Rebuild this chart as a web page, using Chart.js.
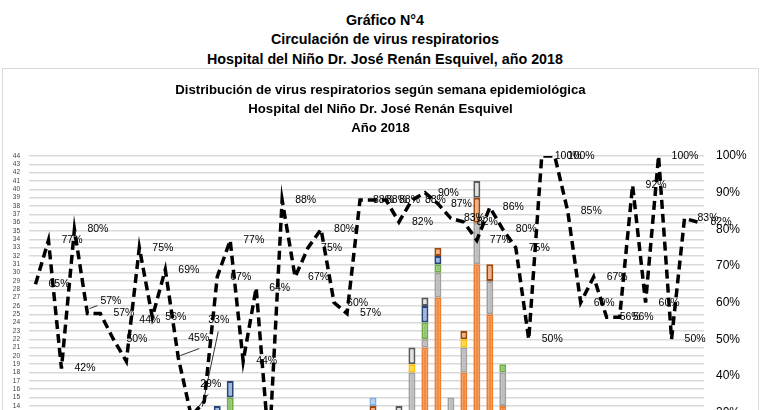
<!DOCTYPE html>
<html><head><meta charset="utf-8">
<script src="https://cdn.jsdelivr.net/npm/chart.js@4.4.0/dist/chart.umd.min.js"></script>
<style>
html,body{margin:0;padding:0;background:#fff;}
body{width:770px;height:410px;overflow:hidden;position:relative;font-family:'Liberation Sans',Arial,sans-serif;}
.t{position:absolute;left:0;width:770px;text-align:center;font-weight:bold;font-size:14.3px;line-height:20px;color:#000;}
#box{position:absolute;left:2px;top:68px;width:757px;height:560px;border:1px solid #d9d9d9;box-sizing:border-box;}
#wrap{position:absolute;left:3px;top:69px;width:755px;height:490px;}
</style></head>
<body>
<div class="t" style="top:10px">Gráfico N°4</div>
<div class="t" style="top:29px">Circulación de virus respiratorios</div>
<div class="t" style="top:49px">Hospital del Niño Dr. José Renán Esquivel, año 2018</div>
<div id="box"></div>
<div id="wrap"><canvas id="c" width="755" height="490"></canvas></div>
<script>
// ---- data ----
const weeks = Array.from({length: 52}, (_, i) => String(i + 1));
const positivity = [65,77,42,80,57,57,50,44,75,56,69,45,29,33,67,77,44,64,20,88,67,75,80,60,57,88,88,88,82,88,90,87,83,82,77,86,80,75,50,100,100,85,60,67,56,56,92,60,100,50,83,82];
const vsr          = [3,4,2,5,3,4,2,3,5,4,6,3,2,2,6,5,3,4,2,5,3,4,5,6,7,8,8,6,8,10,21,27,9,18,31,25,14,8,6,3,5,4,3,2,3,2,4,3,2,1,2,3];
const adenovirus   = [2,3,1,2,2,1,2,1,3,2,2,1,1,2,4,4,2,2,1,3,2,2,3,2,2,3,5,3,5,8,1,3,6,3,5,4,4,3,2,2,3,2,2,1,2,1,2,2,1,1,2,2];
const parainfluenza= [0,0,0,0,0,1,0,0,0,0,0,0,0,0,0,0,0,0,0,0,1,0,0,0,0,0,0,0,0,1,0,0,0,1,0,0,0,0,0,0,1,0,0,0,0,0,0,0,0,0,0,0];
const influenzaB   = [0,0,1,0,0,0,0,0,0,1,0,0,1,2,3,6,1,0,0,0,0,0,0,0,0,0,0,0,0,0,2,1,0,0,0,0,1,0,0,0,0,0,0,0,0,0,0,0,0,0,0,0];
const fluAH1N1     = [0,0,0,0,0,0,0,0,0,0,0,1,1,1,1,2,1,0,0,0,0,0,0,0,0,0,0,0,0,0,2,1,0,0,0,0,0,0,0,0,0,0,0,0,0,0,0,0,0,0,0,0];
const fluAH3N2     = [0,0,0,0,0,0,0,0,0,0,0,0,0,0,0,0,0,0,0,0,0,0,0,0,0,1,1,1,0,0,0,1,0,1,3,2,0,0,0,0,0,0,0,0,0,0,0,0,0,0,0,0];
const metapneumo   = [0,0,0,0,0,0,0,0,0,0,0,0,0,0,0,0,0,0,0,0,0,0,1,0,1,0,0,0,1,2,1,0,0,0,2,0,0,0,0,0,0,0,0,0,0,0,0,0,0,0,0,0];
const fluANoSub    = [0,0,0,0,0,0,0,0,0,0,0,0,0,0,0,0,0,0,0,0,0,0,0,0,0,0,1,0,0,0,0,0,0,0,0,0,0,0,0,0,0,0,0,0,0,0,0,0,0,0,0,0];
const leftTicksMax = 44;

// label nudges (style only: moved labels with leader lines)
const labelNudge = {
  4:  {dx: 0,  dy: -12, lead: [-3, 4, 2, -5]},
  7:  {dx: 0,  dy: -41},
  11: {dx: -3, dy: -19, lead: [11, 10, 2, -2]},
  12: {dx: -4, dy: -32, lead: [8, 10, 0, 0]},
  13: {dx: -9, dy: -81, lead: [10, 11, -2, 5]}
};

const pctLabels = {
  id: 'pctLabels',
  afterDatasetsDraw(chart) {
    const di = chart.data.datasets.findIndex(d => d.type === 'line');
    const meta = chart.getDatasetMeta(di);
    const ctx = chart.ctx;
    ctx.save();
    ctx.font = '10.5px "Liberation Sans", Arial, sans-serif';
    ctx.fillStyle = '#000';
    ctx.textBaseline = 'middle';
    ctx.textAlign = 'left';
    meta.data.forEach((pt, i) => {
      const n = labelNudge[i] || {dx: 0, dy: 0};
      const lx = pt.x + 13 + n.dx, ly = pt.y + n.dy;
      if (n.lead) {
        ctx.beginPath();
        ctx.strokeStyle = '#000';
        ctx.lineWidth = 0.8;
        ctx.moveTo(lx + n.lead[0], ly + n.lead[1]);
        ctx.lineTo(pt.x + n.lead[2], pt.y + n.lead[3]);
        ctx.stroke();
      }
      ctx.fillText(positivity[i] + '%', lx, ly);
    });
    ctx.restore();
  }
};

function barSet(label, data, border, fill) {
  return {type: 'bar', label, data, backgroundColor: fill, borderColor: border,
    borderWidth: 2, borderSkipped: false, yAxisID: 'y', order: 1,
    barPercentage: 0.54, categoryPercentage: 1};
}

new Chart(document.getElementById('c'), {
  data: {
    labels: weeks,
    datasets: [
      {type: 'line', label: '% positividad', data: positivity, yAxisID: 'y1', order: 0,
       borderColor: '#000', borderWidth: 3.5, borderDash: [9, 5], pointRadius: 0,
       tension: 0, fill: false},
      barSet('Virus sincitial respiratorio', vsr, '#ED7D31', '#F28C45'),
      barSet('Adenovirus', adenovirus, '#A0A0A0', '#BEBEBE'),
      barSet('Parainfluenza', parainfluenza, '#FFC000', '#FFD54F'),
      barSet('Influenza B', influenzaB, '#6FAC46', '#93C472'),
      barSet('Influenza A(H1N1)pdm09', fluAH1N1, '#264478', '#9FB6DE'),
      barSet('Influenza A(H3N2)', fluAH3N2, '#9E480E', '#F4B183'),
      barSet('Metapneumovirus', metapneumo, '#595959', '#E4E4E4'),
      barSet('Influenza A no subtipificado', fluANoSub, '#7CAFDD', '#B4D3EE')
    ]
  },
  options: {
    responsive: false,
    animation: false,
    devicePixelRatio: 1,
    layout: {padding: {left: 0, right: 0, top: 0, bottom: 11.5}},
    plugins: {
      legend: {display: false},
      tooltip: {enabled: false},
      title: {
        display: true,
        text: ['Distribución de virus respiratorios según semana epidemiológica',
               'Hospital del Niño Dr. José Renán Esquivel', 'Año 2018'],
        color: '#000',
        font: {family: "'Liberation Sans', Arial, sans-serif", size: 13.2, weight: 'bold', lineHeight: 1.44},
        padding: {top: 12.2, bottom: 17.8}
      }
    },
    scales: {
      x: {
        stacked: true,
        offset: true,
        grid: {display: false},
        border: {display: false},
        ticks: {font: {size: 7, family: "'Liberation Sans', Arial"}, color: '#404040', maxRotation: 0, autoSkip: false},
        afterFit(s) { s.height = 25; }
      },
      y: {
        stacked: true,
        position: 'left',
        min: 0, max: leftTicksMax,
        ticks: {stepSize: 1, autoSkip: false, padding: 9, color: '#404040',
                font: {size: 6.5, family: "'Liberation Sans', Arial"}},
        grid: {color: '#d9d9d9', lineWidth: 1.5, drawTicks: false},
        border: {display: false},
        afterFit(s) { s.width = 26; }
      },
      y1: {
        position: 'right',
        min: 0, max: 100,
        ticks: {stepSize: 10, padding: 12, color: '#000',
                font: {size: 12, family: "'Liberation Sans', Arial"},
                callback: v => v + '%'},
        grid: {drawOnChartArea: false, drawTicks: false},
        border: {display: false},
        afterFit(s) { s.width = 54; }
      }
    }
  },
  plugins: [pctLabels]
});
</script>
</body></html>
